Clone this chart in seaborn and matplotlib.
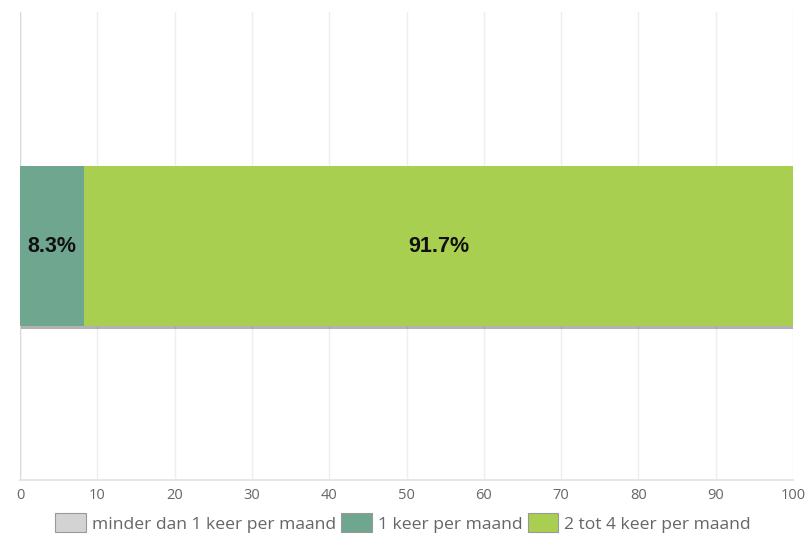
import matplotlib
matplotlib.use("Agg")
import matplotlib.pyplot as plt
import seaborn as sns
import pandas as pd
import numpy as np
from matplotlib.patches import Patch
import matplotlib.patheffects as pe

categories = ["minder dan 1 keer per maand", "1 keer per maand", "2 tot 4 keer per maand"]
values = [0.0, 8.3, 91.7]
colors = ["#d3d3d3", "#6fa68f", "#a8cf50"]
row_label = ["Antwoord"]
xticks = [0, 10, 20, 30, 40, 50, 60, 70, 80, 90, 100]

sns.set_theme(style="white")
plt.rcParams['font.family'] = ['Open Sans', 'DejaVu Sans']

fig = plt.figure(figsize=(8.07, 5.36), dpi=100)
W, H = 807, 536
ax = fig.add_axes([20 / W, (H - 480) / H, (793 - 20) / W, (480 - 12) / H])

cum = np.cumsum(values)
starts = cum - np.array(values)
bar_h = 160 / 468
# draw from the total down so each segment sits on top
for i in reversed(range(len(values))):
    df = pd.DataFrame({"val": [cum[i]], "row": row_label})
    sns.barplot(data=df, x="val", y="row", orient="h", color=colors[i],
                saturation=1, width=bar_h, ax=ax, zorder=3 + (len(values) - i))
for p in ax.patches:
    p.set_linewidth(0)
ax.patches[0].set_path_effects([pe.SimplePatchShadow(offset=(1, -2), shadow_rgbFace="#000000", alpha=0.3), pe.Normal()])

for i, v in enumerate(values):
    if v > 0:
        ax.text(starts[i] + v / 2, 0, f"{v:.1f}%", ha="center", va="center",
                fontsize=15.5, fontweight="bold", color="#111111",
                family=["Liberation Sans", "DejaVu Sans"], zorder=10)

ax.set_xlim(0, 100)
ax.set_ylim(0.5, -0.5)
ax.set_xticks(xticks)
ax.set_xticklabels([str(t) for t in xticks], fontsize=10.5, color="#666666")
ax.set_yticks([])
ax.set_xlabel("")
ax.set_ylabel("")
ax.grid(axis="x", color="#eeeeee", linewidth=1, zorder=0)
ax.set_axisbelow(True)
for s in ["top", "right", "left"]:
    ax.spines[s].set_visible(False)
ax.spines["bottom"].set_color("#e3e3e3")
ax.tick_params(axis="x", length=0, pad=6)
ax.axvline(0, color="#d8d8d8", linewidth=1, zorder=1)

handles = [Patch(facecolor=c, edgecolor="#999999", linewidth=0.8) for c in colors]
leg = fig.legend(handles, categories, loc="center", bbox_to_anchor=(403 / W, (H - 523) / H),
                 ncol=3, frameon=False, fontsize=12.6, handlelength=1.75, handleheight=1.3,
                 handletextpad=0.35, columnspacing=0.3)
for t in leg.get_texts():
    t.set_color("#666666")

fig.savefig("out.png", dpi=100)
